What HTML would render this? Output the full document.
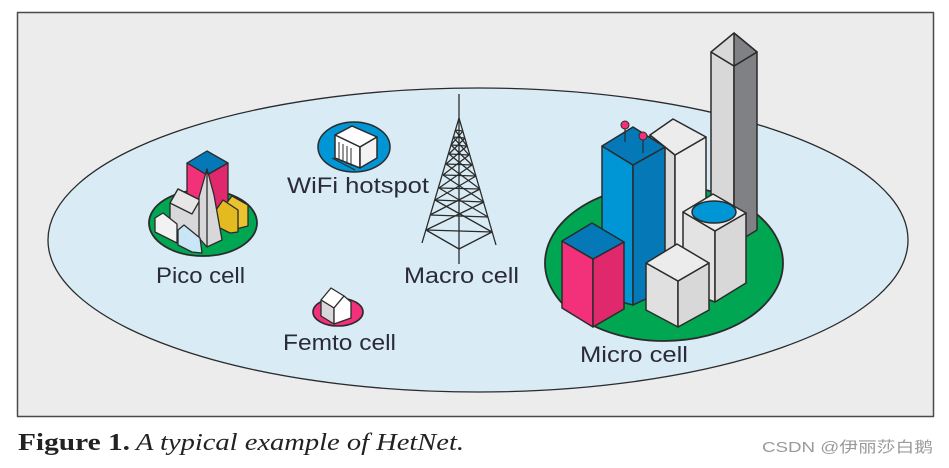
<!DOCTYPE html>
<html><head><meta charset="utf-8"><style>
html,body{margin:0;padding:0;background:#fff;}
svg{display:block;}
</style></head><body>
<svg width="949" height="468" viewBox="0 0 949 468" xmlns="http://www.w3.org/2000/svg" stroke-linejoin="round">
<rect x="17.5" y="12.5" width="916" height="404" fill="#ececec" stroke="#4a4a4a" stroke-width="1.5"/>
<ellipse cx="478" cy="240" rx="430" ry="152" fill="#d9ecf5" stroke="#2b2b2b" stroke-width="1.3"/>

<!-- Pico cell -->
<g stroke="#2b2b2b" stroke-width="1.3">
<ellipse cx="203" cy="223" rx="54" ry="33" fill="#00a651" stroke-width="1.8"/>
<polygon points="187,163 207,151 228,163 207,175" fill="#0579b8"/>
<polygon points="187,163 207,175 207,215 187,205" fill="#f2317a"/>
<polygon points="207,175 228,163 228,205 207,215" fill="#e0286c"/>
<polygon points="170,203 178,189 200,200 200,240 170,228" fill="#d8d8da"/>
<polygon points="170,203 178,189 200,200 192,214" fill="#e6e6e7"/>
<polygon points="225,205 232,196 248,205 248,226 232,230 225,222" fill="#e9c430"/>
<polygon points="216,210 223,200 238,210 238,232 230,233 216,226" fill="#e3bb20"/>
<polygon points="199,197 207,169 214,195 222,240 207,247 199,238" fill="#d8d8da"/>
<line x1="207" y1="169" x2="207" y2="247"/>
<polygon points="155,218 163,213 177,224 177,243 163,236 155,232" fill="#f2f2f2"/>
<polygon points="178,230 184,225 200,238 202,253 192,252 178,245" fill="#c9e6f6"/>
</g>
<text x="156" y="283" font-family="Liberation Sans, sans-serif" font-size="22" fill="#2a2a3a" textLength="89" lengthAdjust="spacingAndGlyphs">Pico cell</text>

<!-- WiFi -->
<g stroke="#2b2b2b" stroke-width="1.5">
<ellipse cx="354" cy="147" rx="36" ry="25" fill="#0096d6"/>
<polygon points="335,135 352,126 377,137 360,147" fill="#fff"/>
<polygon points="335,135 360,147 360,168 335,158" fill="#fff"/>
<polygon points="360,147 377,137 377,158 360,168" fill="#f2f2f2"/>
<g stroke-width="1"><line x1="339" y1="142" x2="339" y2="160"/><line x1="343" y1="144" x2="343" y2="162"/><line x1="347" y1="146" x2="347" y2="164"/><line x1="351" y1="148" x2="351" y2="166"/><line x1="332" y1="158" x2="355" y2="170"/></g>
</g>
<text x="287" y="193" font-family="Liberation Sans, sans-serif" font-size="22" fill="#2a2a3a" textLength="142" lengthAdjust="spacingAndGlyphs">WiFi hotspot</text>

<!-- Macro tower -->
<g stroke="#2b2b2b" stroke-width="1.3" fill="none">
<line x1="459" y1="94" x2="459" y2="264"/>
<line x1="459" y1="118" x2="422" y2="243"/>
<line x1="459" y1="118" x2="496" y2="245"/>
<polyline points="426,230 459,249 492,232"/>
<path d="M426,230 L492,232 M430,215 L488,217 M435,200 L484,202 M439,188 L480,189 M443,175 L476,176 M446,164 L472,165 M449,154 L469,155 M451,145 L467,146 M453,137 L465,138 M455,130 L463,131"/>
<path d="M426,230 L484,202 M430,215 L480,189 M435,200 L476,176 M439,188 L472,165 M443,175 L469,155 M446,164 L467,146 M449,154 L465,138 M451,145 L463,131"/>
<path d="M492,232 L435,200 M488,217 L439,188 M484,202 L443,175 M480,189 L446,164 M476,176 L449,154 M472,165 L451,145 M469,155 L453,137 M467,146 L455,130"/>
</g>
<text x="404" y="283" font-family="Liberation Sans, sans-serif" font-size="22" fill="#2a2a3a" textLength="115" lengthAdjust="spacingAndGlyphs">Macro cell</text>

<!-- Femto -->
<g stroke="#2b2b2b" stroke-width="1.3">
<ellipse cx="338" cy="312" rx="25" ry="14" fill="#f2317a" stroke-width="1.6"/>
<polygon points="321,300 331,288 344,296 334,308" fill="#fff"/>
<polygon points="321,300 334,308 334,324 321,316" fill="#d8d8da"/>
<polygon points="334,308 344,296 351,302 351,318 334,324" fill="#fff"/>
</g>
<text x="283" y="350" font-family="Liberation Sans, sans-serif" font-size="22" fill="#2a2a3a" textLength="113" lengthAdjust="spacingAndGlyphs">Femto cell</text>

<!-- Micro cell -->
<g stroke="#2b2b2b" stroke-width="1.5">
<ellipse cx="664" cy="263" rx="119" ry="78" fill="#00a651" stroke-width="1.8"/>
<polygon points="711,52 734,66 734,270 711,260" fill="#d8d8d9"/>
<polygon points="734,66 757,52 757,230 734,244" fill="#808184"/>
<polygon points="711,52 734,33 757,52 734,66" fill="#d8d8d9"/>
<polygon points="734,33 757,52 734,66" fill="#808184"/>
<polygon points="650,135 675,155 675,260 650,250" fill="#d8d8d9"/>
<polygon points="675,155 706,137 706,250 675,262" fill="#ececec"/>
<polygon points="650,135 673,119 706,137 675,155" fill="#ececec"/>
<polygon points="602,146 633,165 633,305 602,297" fill="#0096d6"/>
<polygon points="633,165 665,147 665,290 633,305" fill="#0579b8"/>
<polygon points="602,146 633,127 665,147 633,165" fill="#0579b8"/>
<line x1="625" y1="127" x2="625" y2="142" stroke-width="1.2"/>
<line x1="643" y1="137" x2="643" y2="153" stroke-width="1.2"/>
<circle cx="625" cy="125" r="4" fill="#f2317a" stroke-width="1"/>
<circle cx="643" cy="136" r="4" fill="#f2317a" stroke-width="1"/>
<polygon points="683,212 715,231 715,302 683,290" fill="#e3e3e4"/>
<polygon points="715,231 746,213 746,283 715,302" fill="#d8d8d9"/>
<polygon points="683,212 713,194 746,213 715,231" fill="#ececec"/>
<ellipse cx="714" cy="212" rx="22" ry="11" fill="#0096d6"/>
<polygon points="562,241 593,259 593,327 562,308" fill="#f2317a"/>
<polygon points="593,259 624,242 624,309 593,327" fill="#e0286c"/>
<polygon points="562,241 592,223 624,242 593,259" fill="#0579b8"/>
<polygon points="646,263 678,281 678,327 646,310" fill="#e0e0e1"/>
<polygon points="678,281 709,263 709,310 678,327" fill="#d8d8d9"/>
<polygon points="646,263 677,244 709,263 678,281" fill="#ececec"/>
</g>
<text x="580" y="362" font-family="Liberation Sans, sans-serif" font-size="22" fill="#2a2a3a" textLength="108" lengthAdjust="spacingAndGlyphs">Micro cell</text>

<!-- caption -->
<text x="18" y="450" font-family="Liberation Serif, serif" font-size="24" font-weight="bold" fill="#222" textLength="112" lengthAdjust="spacingAndGlyphs">Figure 1.</text>
<text x="136" y="450" font-family="Liberation Serif, serif" font-size="24" font-style="italic" fill="#222" textLength="328" lengthAdjust="spacingAndGlyphs">A typical example of HetNet.</text>
<text x="762" y="452" font-family="Liberation Sans, 'Noto Sans CJK SC', sans-serif" font-size="15" fill="#9a9a9a" textLength="171" lengthAdjust="spacingAndGlyphs">CSDN @伊丽莎白鹅</text>
</svg>
</body></html>
